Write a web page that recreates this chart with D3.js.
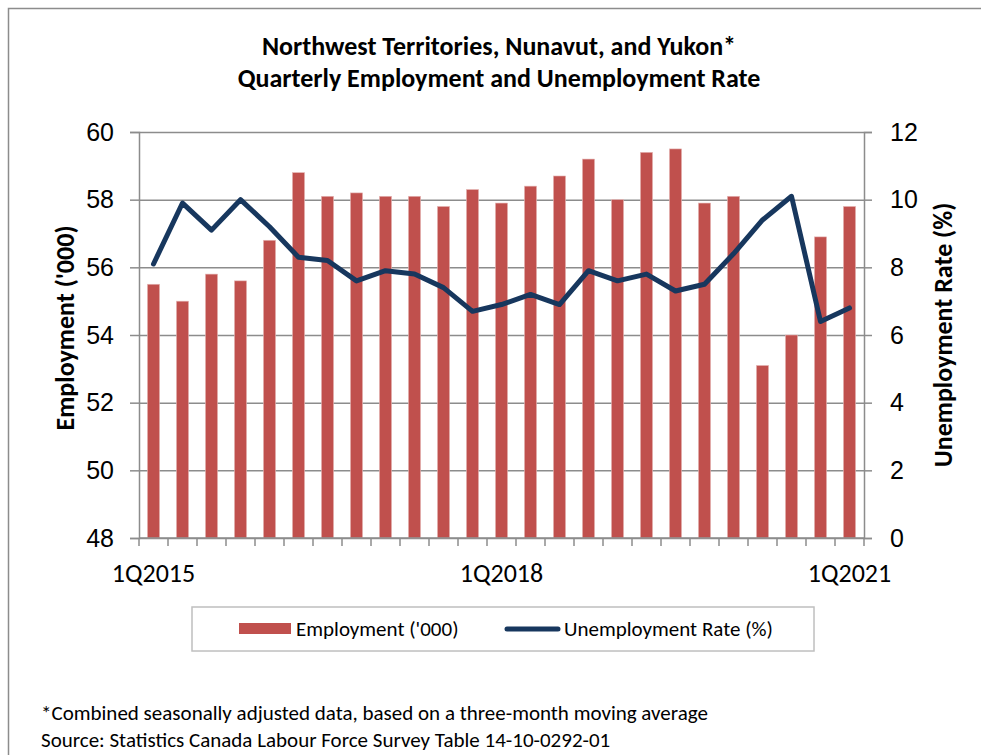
<!DOCTYPE html>
<html>
<head>
<meta charset="utf-8">
<script src="https://cdn.jsdelivr.net/npm/d3@7"></script>
<style>
  body { margin: 0; background: #fff; }
  svg { display: block; font-family: Carlito, Lato, "Open Sans", sans-serif; }
</style>
</head>
<body>
<div id="chart"></div>
<script>
const width = 981;
const height = 755;

const quarters = [
  "1Q2015", "2Q2015", "3Q2015", "4Q2015",
  "1Q2016", "2Q2016", "3Q2016", "4Q2016",
  "1Q2017", "2Q2017", "3Q2017", "4Q2017",
  "1Q2018", "2Q2018", "3Q2018", "4Q2018",
  "1Q2019", "2Q2019", "3Q2019", "4Q2019",
  "1Q2020", "2Q2020", "3Q2020", "4Q2020",
  "1Q2021"
];
const employment = [
  55.5, 55.0, 55.8, 55.6,
  56.8, 58.8, 58.1, 58.2,
  58.1, 58.1, 57.8, 58.3,
  57.9, 58.4, 58.7, 59.2,
  58.0, 59.4, 59.5, 57.9,
  58.1, 53.1, 54.0, 56.9,
  57.8
];
const unemploymentRate = [
  8.1, 9.9, 9.1, 10.0,
  9.2, 8.3, 8.2, 7.6,
  7.9, 7.8, 7.4, 6.7,
  6.9, 7.2, 6.9, 7.9,
  7.6, 7.8, 7.3, 7.5,
  8.4, 9.4, 10.1, 6.4,
  6.8
];
const leftTicks = [48, 50, 52, 54, 56, 58, 60];
const rightTicks = [0, 2, 4, 6, 8, 10, 12];
const xLabels = ["1Q2015", "1Q2018", "1Q2021"];

const titleLines = [
  "Northwest Territories, Nunavut, and Yukon*",
  "Quarterly Employment and Unemployment Rate"
];
const notes = [
  "*Combined seasonally adjusted data, based on a three-month moving average",
  "Source: Statistics Canada Labour Force Survey Table 14-10-0292-01"
];

const plot = { left: 139, right: 864, top: 132, bottom: 538 };
const barColor = "#C0504D";
const lineColor = "#17375E";
const gridColor = "#8C8C8C";

const svg = d3.select("#chart").append("svg")
  .attr("width", width)
  .attr("height", height);

// outer frame
svg.append("path")
  .attr("d", "M8.5,760 V8.5 H990")
  .attr("fill", "none")
  .attr("stroke", "#8C8C8C")
  .attr("stroke-width", 1.5);

// title
svg.append("g").selectAll("text")
  .data(titleLines)
  .join("text")
  .attr("x", 499)
  .attr("y", (d, i) => 55 + i * 32)
  .attr("text-anchor", "middle")
  .attr("font-size", 26)
  .attr("font-weight", "bold")
  .text(d => d);

const x = d3.scaleBand()
  .domain(quarters)
  .range([plot.left, plot.right])
  .paddingInner(0.58)
  .paddingOuter(0.29);

const yLeft = d3.scaleLinear().domain([48, 60]).range([plot.bottom, plot.top]);
const yRight = d3.scaleLinear().domain([0, 12]).range([plot.bottom, plot.top]);

// gridlines
svg.append("g")
  .attr("transform", `translate(${plot.left},0)`)
  .call(d3.axisLeft(yLeft).tickValues(leftTicks).tickSize(-(plot.right - plot.left)).tickFormat(""))
  .call(g => g.select(".domain").remove())
  .call(g => g.selectAll("line").attr("stroke", gridColor).attr("stroke-width", 1.5));

// left axis
svg.append("g")
  .attr("transform", `translate(${plot.left},0)`)
  .call(d3.axisLeft(yLeft).tickValues(leftTicks).tickSize(9).tickPadding(16))
  .call(g => g.select(".domain").attr("stroke", gridColor).attr("stroke-width", 1.5))
  .call(g => g.selectAll("line").attr("stroke", gridColor).attr("stroke-width", 1.5))
  .call(g => g.selectAll("text").attr("font-size", 25).attr("fill", "#000").attr("font-family", null));

// right axis
svg.append("g")
  .attr("transform", `translate(${plot.right},0)`)
  .call(d3.axisRight(yRight).tickValues(rightTicks).tickSize(8).tickPadding(18))
  .call(g => g.select(".domain").attr("stroke", gridColor).attr("stroke-width", 1.5))
  .call(g => g.selectAll("line").attr("stroke", gridColor).attr("stroke-width", 1.5))
  .call(g => g.selectAll("text").attr("font-size", 25).attr("fill", "#000").attr("font-family", null));

// bars
svg.append("g").selectAll("rect")
  .data(quarters)
  .join("rect")
  .attr("x", d => x(d))
  .attr("y", (d, i) => yLeft(employment[i]))
  .attr("width", x.bandwidth())
  .attr("height", (d, i) => yLeft(48) - yLeft(employment[i]))
  .attr("fill", barColor)
  .attr("stroke", "#E6B9B8")
  .attr("stroke-width", 0.6);

// x axis
const step = x.step();
const edges = quarters.map(q => x(q) - x.paddingOuter() * step).concat([plot.right]);
svg.append("g").selectAll("line")
  .data(edges)
  .join("line")
  .attr("x1", d => d).attr("x2", d => d)
  .attr("y1", plot.bottom).attr("y2", plot.bottom + 8)
  .attr("stroke", gridColor)
  .attr("stroke-width", 1.5);
svg.append("line")
  .attr("x1", plot.left).attr("x2", plot.right)
  .attr("y1", plot.bottom).attr("y2", plot.bottom)
  .attr("stroke", gridColor)
  .attr("stroke-width", 1.5);
svg.append("g").selectAll("text")
  .data(xLabels)
  .join("text")
  .attr("x", d => x(d) + x.bandwidth() / 2)
  .attr("y", 582)
  .attr("text-anchor", "middle")
  .attr("font-size", 26)
  .text(d => d);

// unemployment line
const line = d3.line()
  .x((d, i) => x(quarters[i]) + x.bandwidth() / 2)
  .y(d => yRight(d));
svg.append("path")
  .datum(unemploymentRate)
  .attr("d", line)
  .attr("fill", "none")
  .attr("stroke", lineColor)
  .attr("stroke-width", 5)
  .attr("stroke-linejoin", "round")
  .attr("stroke-linecap", "round");

// axis titles
svg.append("text")
  .attr("transform", "translate(74,328) rotate(-90)")
  .attr("text-anchor", "middle")
  .attr("font-size", 26)
  .attr("font-weight", "bold")
  .text("Employment ('000)");
svg.append("text")
  .attr("transform", "translate(952,335) rotate(-90)")
  .attr("text-anchor", "middle")
  .attr("font-size", 26)
  .attr("font-weight", "bold")
  .text("Unemployment Rate (%)");

// legend
const legend = svg.append("g");
legend.append("rect")
  .attr("x", 192).attr("y", 607)
  .attr("width", 622).attr("height", 44)
  .attr("fill", "#fff")
  .attr("stroke", "#BFBFBF")
  .attr("stroke-width", 1.5);
legend.append("rect")
  .attr("x", 239).attr("y", 623)
  .attr("width", 52).attr("height", 11)
  .attr("fill", barColor);
legend.append("text")
  .attr("x", 296).attr("y", 636)
  .attr("font-size", 21)
  .text("Employment ('000)");
legend.append("line")
  .attr("x1", 507).attr("x2", 558)
  .attr("y1", 629).attr("y2", 629)
  .attr("stroke", lineColor)
  .attr("stroke-width", 5)
  .attr("stroke-linecap", "round");
legend.append("text")
  .attr("x", 564).attr("y", 636)
  .attr("font-size", 21)
  .text("Unemployment Rate (%)");

// notes
svg.append("g").selectAll("text")
  .data(notes)
  .join("text")
  .attr("x", 41)
  .attr("y", (d, i) => 720 + i * 27)
  .attr("font-size", 21)
  .text(d => d);
</script>
</body>
</html>
